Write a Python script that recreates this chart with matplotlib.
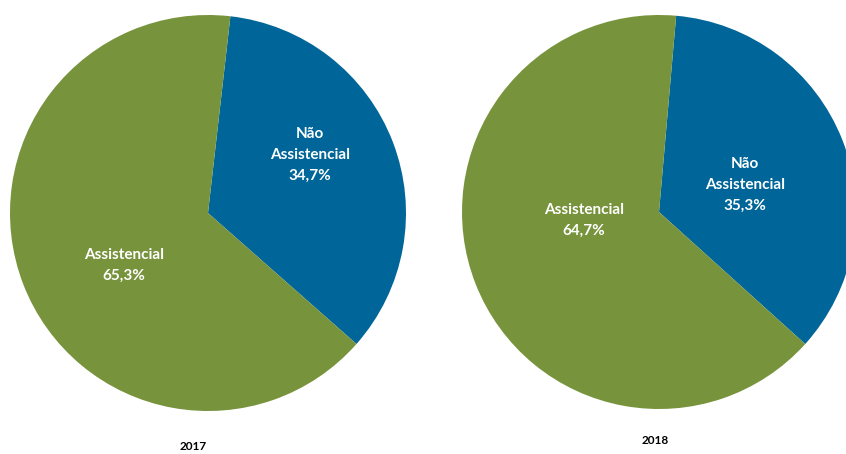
import matplotlib.pyplot as plt

years = ['2017', '2018']
categories = ['Não\nAssistencial', 'Assistencial']
shares = {
    '2017': [34.7, 65.3],
    '2018': [35.3, 64.7],
}
colors = ['#006699', '#77933c']

W, H = 846, 454
fig = plt.figure(figsize=(W / 100, H / 100), dpi=100)
plt.rcParams['font.family'] = ['Lato', 'DejaVu Sans']

# pie placement in pixels: center x, center y, radius, start angle
layout = {
    '2017': dict(cx=208, cy=213, r=198, start=83.5,
                 lab=[(310, 155), (124, 265)], year=(193, 447)),
    '2018': dict(cx=659, cy=212, r=197, start=85.0,
                 lab=[(745, 185), (584, 220)], year=(655, 440)),
}


def fmt(v):
    return f'{v:.1f}%'.replace('.', ',')


for yr in years:
    p = layout[yr]
    ax = fig.add_axes([(p['cx'] - p['r']) / W, (H - p['cy'] - p['r']) / H,
                       2 * p['r'] / W, 2 * p['r'] / H])
    ax.pie(shares[yr], colors=colors, startangle=p['start'], counterclock=False,
           radius=1, wedgeprops=dict(linewidth=0))
    ax.set_xlim(-1, 1)
    ax.set_ylim(-1, 1)
    ax.axis('off')
    for (lx, ly), cat, v in zip(p['lab'], categories, shares[yr]):
        fig.text(lx / W, 1 - ly / H, cat + '\n' + fmt(v), color='white',
                 fontsize=11, fontweight='bold', ha='center', va='center',
                 linespacing=1.6)
    fig.text(p['year'][0] / W, 1 - p['year'][1] / H, yr, fontsize=8.5,
             fontweight='bold', ha='center', va='center')

fig.savefig('out.png', dpi=100)
